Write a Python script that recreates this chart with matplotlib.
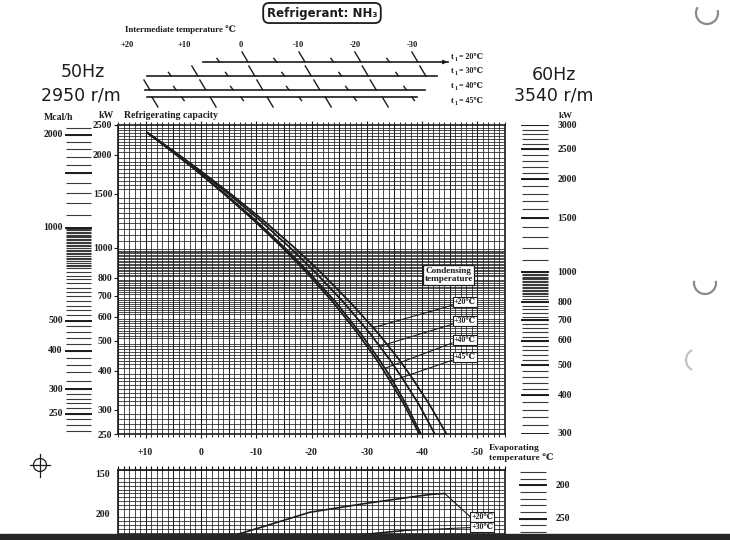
import matplotlib
matplotlib.use("Agg")
import matplotlib.pyplot as plt
import numpy as np
from matplotlib.ticker import FixedLocator, NullFormatter
from matplotlib.patches import Ellipse, Arc, Rectangle
from matplotlib.lines import Line2D

plt.rcParams['font.family'] = ['Liberation Serif', 'DejaVu Serif', 'DejaVu Sans']
plt.rcParams['font.weight'] = 'bold'

W, H = 730, 540
INK = '#1c1c1c'

# refrigerating capacity at 50 Hz (kW), read at the same capacity levels for every curve
cap_levels = [2355, 2075, 1790, 1495, 1232, 992, 830, 664, 531, 434, 382, 310, 252, 244]
# evaporating temperature (degC) of each condensing-temperature curve at those levels
evap_c20 = [9.6, 5.2, 0.3, -5.4, -11.2, -17.2, -21.8, -27.1, -32.0, -35.9, -38.1, -41.4, -44.3, -44.7]
evap_c30 = [9.6, 5.4, 0.5, -5.0, -10.6, -16.4, -20.8, -25.9, -30.5, -34.2, -36.3, -39.5, -42.2, -42.6]
evap_c40 = [9.6, 5.5, 0.9, -4.4, -9.8, -15.4, -19.6, -24.5, -28.8, -32.3, -34.3, -37.2, -39.7, -40.1]
evap_c45 = [9.6, 5.6, 1.0, -4.2, -9.5, -15.0, -19.2, -24.0, -28.3, -31.8, -33.8, -36.8, -39.4, -39.8]

cond_labels = ['+20℃', '+30℃', '+40℃', '+45℃']
leader_evap = [-31.2, -32.4, -33.3, -34.3]
label_cap = [668, 580, 505, 444]
label_evap = -47.7

cap_ticks = [250, 300, 400, 500, 600, 700, 800, 1000, 1500, 2000, 2500]
evap_ticks = [10, 0, -10, -20, -30, -40, -50]
evap_ticklabels = ['+10', '0', '-10', '-20', '-30', '-40', '-50']

# lower chart (shaft power, kW)
pow_evap_c20 = [1.5, -6.5, -11.9, -19.7, -30.0, -40.1, -41.9, -44.1]
pow_c20 = [228.5, 227.5, 216, 199, 187.5, 177.5, 176, 175]
pow_evap_c30 = [-22.0, -29.2, -36.5]
pow_c30 = [232.5, 227.5, 222.5]
pow_labels = ['+20℃', '+30℃']
pow_label_kw = [205, 217.5]

# side scales
mcal_labels = [2000, 1000, 500, 400, 300, 250]
mcal_major = [250, 300, 400, 500, 1000, 1500, 2000]
kw60_labels = [3000, 2500, 2000, 1500, 1000, 800, 700, 600, 500, 400, 300]
pow60_labels = [200, 250]

# intermediate temperature nomograph (positions in degC of the top scale)
inter_labels = ['+20', '+10', '0', '-10', '-20', '-30']
inter_vals = [20, 10, 0, -10, -20, -30]
t1_values = ['20℃', '30℃', '40℃', '45℃']
t1_spans = [(6.7, -36.3), (16.5, -34.4), (16.8, -32.3), (16.5, -30.9)]
t1_major = [[-0.7, -10.7, -20.5, -30.5],
            [8.1, -1.9, -11.8, -21.8, -31.9],
            [16.5, 6.7, -3.3, -13.3, -23.2],
            [15.1, 4.9, -5.1, -15.3, -25.3]]
t1_minor = [[4.0, -6.0, -16.0, -25.8],
            [12.5, 2.5, -7.4, -17.4, -27.4],
            [11.6, 1.6, -8.2, -18.6, -28.8],
            [10.2, -0.2, -10.4, -20.0, -30.2]]


def fx(px):
    return px / W


def fy(py):
    return 1 - py / H


fig = plt.figure(figsize=(7.3, 5.4), dpi=100)
fig.patch.set_facecolor('white')

X0, X1 = 118, 505
Y_TOP, Y_BOT = 125, 434
XLIM = (15, -55)
FS = 7

# ---------------- main capacity chart ----------------
ax = fig.add_axes([fx(X0), fy(Y_BOT), (X1 - X0) / W, (Y_BOT - Y_TOP) / H])
ax.set_yscale('log')
ax.set_xlim(*XLIM)
ax.set_ylim(250, 2500)
ax.set_yticks(cap_ticks)
ax.set_yticklabels([str(v) for v in cap_ticks])
ax.yaxis.set_minor_locator(FixedLocator(list(range(250, 1000, 10)) + list(range(1000, 2501, 50))))
ax.yaxis.set_minor_formatter(NullFormatter())
ax.set_xticks(evap_ticks)
ax.set_xticklabels(evap_ticklabels)
ax.set_xticks(np.arange(-55, 16, 1), minor=True)
ax.grid(which='minor', color=INK, lw=0.55)
for e in range(-55, 16, 5):
    ax.axvline(e, color=INK, lw=0.75, zorder=1)
ax.tick_params(axis='y', which='minor', length=0)
ax.tick_params(axis='y', which='major', length=3, width=0.8, pad=1, labelsize=FS, colors=INK)
ax.tick_params(axis='x', which='minor', length=2, width=0.6, top=True, bottom=True, direction='out')
ax.tick_params(axis='x', which='major', length=3, width=0.8, top=True, pad=7, labelsize=FS, colors=INK)
for sp in ax.spines.values():
    sp.set_linewidth(1.2)
    sp.set_color(INK)

curves = [evap_c20, evap_c30, evap_c40, evap_c45]
for ev in curves:
    ax.plot(ev, cap_levels, color=INK, lw=1.3, zorder=3)

for ev, lab, le, lc in zip(curves, cond_labels, leader_evap, label_cap):
    yv = np.interp(-le, -np.array(ev), cap_levels)
    ax.annotate(lab, xy=(le, yv), xytext=(label_evap, lc), fontsize=5.8,
                ha='center', va='center', zorder=6, color=INK,
                bbox=dict(boxstyle='square,pad=0.12', fc='white', ec=INK, lw=0.8),
                arrowprops=dict(arrowstyle='-', lw=0.8, color=INK, relpos=(0, 0.15),
                                shrinkA=0, shrinkB=0))

ax.text(-44.8, 817, 'Condensing\ntemperature', fontsize=6.6, ha='center', va='center',
        linespacing=1.05, zorder=6, color=INK,
        bbox=dict(boxstyle='square,pad=0.18', fc='white', ec=INK, lw=0.9))

# ---------------- lower chart ----------------
axb = fig.add_axes([fx(X0), fy(560), (X1 - X0) / W, 90 / H])
axb.set_xlim(*XLIM)
axb.set_ylim(260, 147.5)
axb.set_xticks(evap_ticks)
axb.set_xticklabels([])
axb.set_xticks(np.arange(-55, 16, 1), minor=True)
axb.set_yticks([150, 200])
axb.set_yticklabels(['150', '200'])
axb.set_yticks(np.arange(145, 261, 5), minor=True)
axb.grid(which='minor', color=INK, lw=0.55)
for e in range(-55, 16, 5):
    axb.axvline(e, color=INK, lw=0.75, zorder=1)
axb.tick_params(axis='x', which='both', bottom=False, top=True, length=3, width=0.8)
axb.tick_params(axis='y', which='minor', length=0)
axb.tick_params(axis='y', which='major', length=0, pad=6, labelsize=FS, colors=INK)
for sp in axb.spines.values():
    sp.set_linewidth(1.2)
    sp.set_color(INK)
axb.plot(pow_evap_c20, pow_c20, color=INK, lw=1.2, zorder=3)
axb.plot(pow_evap_c30, pow_c30, color=INK, lw=1.2, zorder=3)
for ev, pw, lab, lk in zip([pow_evap_c20, pow_evap_c30], [pow_c20, pow_c30], pow_labels, pow_label_kw):
    axb.annotate(lab, xy=(ev[-1], pw[-1]), xytext=(-50.9, lk), fontsize=5.8,
                 ha='center', va='center', zorder=6, color=INK,
                 bbox=dict(boxstyle='square,pad=0.12', fc='white', ec=INK, lw=0.8),
                 arrowprops=dict(arrowstyle='-', lw=0.8, color=INK, relpos=(0, 0.4),
                                 shrinkA=0, shrinkB=0))

# ---------------- side scales ----------------
axm = fig.add_axes([fx(65), fy(Y_BOT), 27 / W, (Y_BOT - Y_TOP) / H])
axm.set_yscale('log')
axm.set_ylim(250 * 0.86, 2500 * 0.86)
axm.set_xlim(0, 1)
axm.axis('off')
mcal_ticks = list(range(220, 300, 10)) + list(range(300, 750, 20)) + \
    list(range(750, 1000, 10)) + list(range(1000, 2201, 100))
axm.hlines(mcal_ticks, 0.05, 0.95, color='#3a3a3a', lw=0.8)
axm.hlines(mcal_major, 0, 1, color=INK, lw=1.4)
for v in mcal_labels:
    axm.text(-0.08, v, str(v), transform=axm.get_yaxis_transform(), ha='right',
             va='center', fontsize=FS, color=INK)

axr = fig.add_axes([fx(521), fy(Y_BOT), 28 / W, (Y_BOT - Y_TOP) / H])
axr.set_yscale('log')
axr.set_ylim(300, 3000)
axr.set_xlim(0, 1)
axr.axis('off')
kw60_ticks = list(range(300, 850, 20)) + list(range(850, 1000, 10)) + list(range(1000, 3001, 100))
axr.hlines(kw60_ticks, 0.05, 0.95, color='#3a3a3a', lw=0.8)
axr.hlines(kw60_labels, 0, 1, color=INK, lw=1.4)
for v in kw60_labels:
    axr.text(1.3, v, str(v), transform=axr.get_yaxis_transform(), ha='left',
             va='center', fontsize=FS, color=INK)

axr2 = fig.add_axes([fx(519), fy(560), 28 / W, 90 / H])
axr2.set_ylim(260 * 1.2, 147.5 * 1.2)
axr2.set_xlim(0, 1)
axr2.axis('off')
axr2.hlines(np.arange(180, 311, 10), 0.05, 0.95, color='#3a3a3a', lw=0.8)
axr2.hlines(pow60_labels, 0, 1, color=INK, lw=1.4)
for v in pow60_labels:
    axr2.text(1.3, v, str(v), transform=axr2.get_yaxis_transform(), ha='left',
              va='center', fontsize=FS, color=INK)

# ---------------- intermediate temperature nomograph ----------------
axn = fig.add_axes([fx(X0), fy(110), (X1 - X0) / W, 72 / H])
axn.set_xlim(20 + 9 / 5.7, 20 - (X1 - 127) / 5.7)
axn.set_ylim(110, 38)
axn.axis('off')
rows = [62, 76, 90, 97]
below = [False, False, False, True]
dpx = 1 / 5.7
for y, (u0, u1), majors, minors, dn in zip(rows, t1_spans, t1_major, t1_minor, below):
    axn.plot([u0, u1], [y, y], color=INK, lw=1.2)
    for ticks, half, h in [(majors, 3.0, 10), (minors, 1.3, 3.6)]:
        for u in ticks:
            if dn:
                axn.plot([u + half * dpx, u - half * dpx], [y, y + h], color=INK, lw=1.0)
            else:
                axn.plot([u + half * dpx, u - half * dpx], [y - h, y], color=INK, lw=1.0)
axn.annotate('', xy=(t1_spans[0][1] - 0.4, rows[0]), xytext=(t1_spans[0][1] + 1.5, rows[0]),
             arrowprops=dict(arrowstyle='-|>', lw=0.9, color=INK, mutation_scale=6))
for u, lab in zip(inter_vals, inter_labels):
    axn.text(u, 45, lab, ha='center', va='center', fontsize=6, color=INK)

# t1 labels: "t" with a lowered small "1", then the value
for val, yy in zip(t1_values, [57, 71, 86, 101]):
    fig.text(fx(451), fy(yy), 't', ha='left', va='center', fontsize=6, color=INK)
    fig.text(fx(454.5), fy(yy + 2.5), '1', ha='left', va='center', fontsize=4.3, color=INK)
    fig.text(fx(459), fy(yy), '= ' + val, ha='left', va='center', fontsize=5.8, color=INK)

# ---------------- texts ----------------
fig.text(fx(125), fy(30), 'Intermediate temperature ℃', ha='left', va='center',
         fontsize=6.4, color=INK)
fig.text(fx(322), fy(13), 'Refrigerant: NH₃', ha='center', va='center', fontsize=8.5,
         family=['DejaVu Sans'], weight='bold', color=INK,
         bbox=dict(boxstyle='round,pad=0.3,rounding_size=0.5', fc='white', ec=INK, lw=1.3))
for txt, px, py in [('50Hz', 83, 72), ('2950 r/m', 81, 95), ('60Hz', 554, 75), ('3540 r/m', 554, 95)]:
    fig.text(fx(px), fy(py), txt, ha='center', va='center', fontsize=12.5,
             family=['DejaVu Sans'], weight='normal', color=INK)
fig.text(fx(44), fy(117), 'Mcal/h', ha='left', va='center', fontsize=FS, color=INK)
fig.text(fx(99), fy(116), 'kW', ha='left', va='center', fontsize=FS, color=INK)
fig.text(fx(124), fy(116), 'Refrigerating capacity', ha='left', va='center', fontsize=FS, color=INK)
fig.text(fx(559), fy(116), 'kW', ha='left', va='center', fontsize=6.5, color=INK)
fig.text(fx(489), fy(453), 'Evaporating\ntemperature ℃', ha='left', va='center',
         fontsize=6.8, linespacing=1.15, color=INK)

# ---------------- page marks ----------------
fig.add_artist(Ellipse((fx(40), fy(465)), 13 / W, 13 / H, transform=fig.transFigure,
                       fill=False, lw=0.9, color=INK))
fig.add_artist(Line2D([fx(40), fx(40)], [fy(454), fy(477)], transform=fig.transFigure,
                      lw=0.9, color=INK))
fig.add_artist(Line2D([fx(30), fx(50)], [fy(465), fy(465)], transform=fig.transFigure,
                      lw=0.9, color=INK))
for (hx, hy, t1, t2, col) in [(707, 13, 140, 380, '#8a8a8a'), (705, 283, 165, 375, '#8a8a8a'),
                              (697, 360, 110, 250, '#c4c4c4')]:
    fig.add_artist(Arc((fx(hx), fy(hy)), 22 / W, 22 / H, theta1=t1, theta2=t2,
                       transform=fig.transFigure, color=col, lw=1.6))
fig.add_artist(Rectangle((0, 0), 1, 6 / H, transform=fig.transFigure, color='#262626', zorder=10))

fig.savefig('out.png', dpi=100)
